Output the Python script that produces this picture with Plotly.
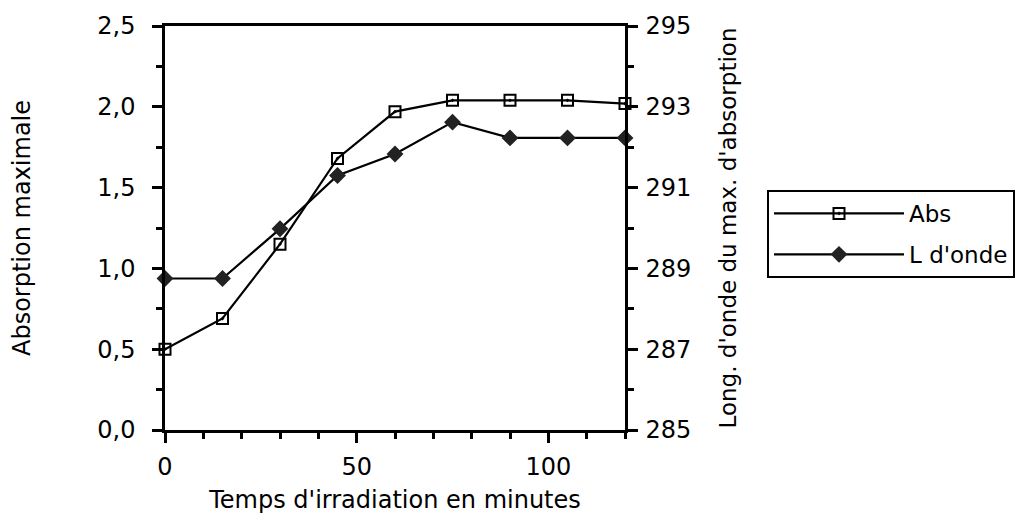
import plotly.graph_objects as go

# temps d'irradiation (minutes)
temps = [0, 15, 30, 45, 60, 75, 90, 105, 120]
# absorption maximale
abs_max = [0.50, 0.69, 1.15, 1.68, 1.97, 2.04, 2.04, 2.04, 2.02]
# longueur d'onde du maximum d'absorption (nm)
l_onde = [288.75, 288.75, 289.98, 291.3, 291.83, 292.62, 292.23, 292.23, 292.23]

FONT = "DejaVu Sans"
# the page body adds an 8px offset, margins compensate for it
OFF = 8
W, H = 1025, 515

fig = go.Figure()

fig.add_trace(go.Scatter(
    x=temps, y=abs_max, name="Abs", mode="lines+markers",
    line=dict(color="black", width=2.2),
    marker=dict(symbol="square-open-dot", size=11, color="black",
                line=dict(width=2, color="black")),
    cliponaxis=False, legendgroup="a",
))
fig.add_trace(go.Scatter(
    x=temps, y=l_onde, name="L d'onde", mode="lines+markers", yaxis="y2",
    line=dict(color="black", width=2.2),
    marker=dict(symbol="diamond", size=13, color="#222222"),
    cliponaxis=False, legendgroup="b",
))

axis_common = dict(
    showline=True, linecolor="black", linewidth=2.5,
    ticks="outside", ticklen=10, tickwidth=2.5, tickcolor="black",
    showgrid=False, zeroline=False, automargin=False,
    tickfont=dict(size=24),
)

fig.update_layout(
    width=W, height=H,
    margin=dict(l=165 - OFF, r=400 + OFF, t=26 - OFF, b=85 + OFF),
    paper_bgcolor="white", plot_bgcolor="white",
    separators=", ",
    font=dict(family=FONT, color="black", size=24),
    xaxis=dict(
        axis_common, range=[0, 120], tickvals=[0, 50, 100], mirror=True,
        ticklabelstandoff=3,
        minor=dict(dtick=10, ticks="outside", ticklen=6, tickwidth=2.5, tickcolor="black"),
        title=dict(text="Temps d'irradiation en minutes", standoff=12, font=dict(size=24)),
    ),
    yaxis=dict(
        axis_common, range=[0, 2.5], tickvals=[0, 0.5, 1, 1.5, 2, 2.5], tickformat=".1f",
        ticklabelstandoff=12,
        minor=dict(dtick=0.25, ticks="outside", ticklen=6, tickwidth=2.5, tickcolor="black"),
        title=dict(text="Absorption maximale", standoff=62, font=dict(size=24)),
    ),
    yaxis2=dict(
        axis_common, range=[285, 295], tickvals=[285, 287, 289, 291, 293, 295],
        overlaying="y", side="right", ticklabelstandoff=3,
        minor=dict(dtick=1, ticks="outside", ticklen=6, tickwidth=2.5, tickcolor="black"),
        title=dict(text="Long. d'onde du max. d'absorption", standoff=30, font=dict(size=23)),
    ),
    legend=dict(
        xref="container", yref="container",
        x=(767 - OFF) / W, y=1 - (190 - OFF) / H, xanchor="left", yanchor="top",
        bordercolor="black", borderwidth=2, bgcolor="white",
        font=dict(size=23), itemwidth=130,
        traceorder="grouped", tracegroupgap=8,
    ),
)

fig.write_html("out.html")
